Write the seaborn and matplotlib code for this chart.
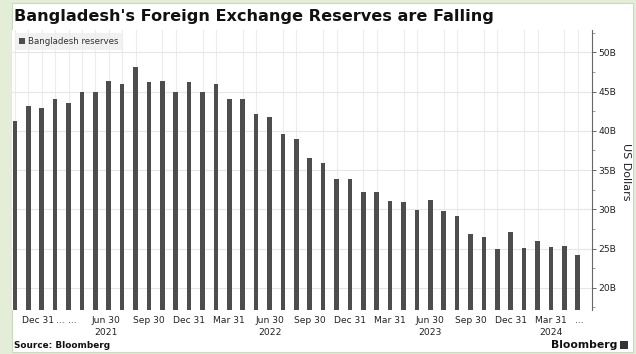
import matplotlib
matplotlib.use("Agg")
import matplotlib.pyplot as plt
from matplotlib.patches import Rectangle
from matplotlib.ticker import FixedLocator
import seaborn as sns
import pandas as pd

# ---- data ----
months = pd.date_range("2020-11-30", "2024-05-31", freq="ME").strftime("%Y-%m").tolist()
reserves = [41.3, 43.2, 42.9, 44.0, 43.5, 44.9, 45.0, 46.4, 45.9, 48.1,
            46.2, 46.4, 44.9, 46.2, 44.9, 46.0, 44.1, 44.0, 42.2, 41.8,
            39.6, 39.0, 36.5, 35.9, 33.8, 33.8, 32.2, 32.2, 31.1, 30.9,
            29.9, 31.2, 29.8, 29.2, 26.9, 26.5, 24.9, 27.1, 25.1, 25.9,
            25.2, 25.3, 24.2]
tick_labels = ["Dec 31", "...", "...", "Jun 30\n2021", "Sep 30", "Dec 31",
               "Mar 31", "Jun 30\n2022", "Sep 30", "Dec 31", "Mar 31",
               "Jun 30\n2023", "Sep 30", "Dec 31", "Mar 31\n2024", "..."]
tick_pos = [1.75, 3.4, 4.3, 6.8, 10, 13, 16, 19, 22, 25, 28, 31, 34, 37, 40, 42.1]
y_ticks = [20, 25, 30, 35, 40, 45, 50]
y_tick_labels = [f"{v}B" for v in y_ticks]
series_name = "Bangladesh reserves"
title = "Bangladesh's Foreign Exchange Reserves are Falling"

df = pd.DataFrame({"month": months, "reserves": reserves})

W, H = 636, 354
fig = plt.figure(figsize=(W / 100, H / 100), dpi=100)
fig.patch.set_facecolor("#e3edd7")
fig.patches.append(Rectangle((12 / W, 1 - 352 / H), (633 - 12) / W, (352 - 3) / H,
                             transform=fig.transFigure, facecolor="white",
                             edgecolor="#cdd8c2", lw=0.8, zorder=-10))

ax = fig.add_axes([12 / W, 1 - 310 / H, (591.7 - 12) / W, (310 - 30) / H])
ax.set_zorder(1)
sns.barplot(data=df, x="month", y="reserves", color="#4d4d4d", saturation=1,
            width=0.34, ax=ax, label=series_name)

ax.set_xlim(-0.22, 43.04)
ax.set_ylim(17.17, 52.84)
ax.set_xlabel("")
ax.set_ylabel("")

# x axis
ax.set_xticks(tick_pos)
ax.set_xticklabels(tick_labels, linespacing=1.45)
ax.xaxis.set_minor_locator(FixedLocator(list(range(len(months)))))
ax.tick_params(axis="x", which="both", length=0, labelsize=6.6, pad=4, labelcolor="#222222")

# y axis on right
ax.yaxis.tick_right()
ax.set_yticks(y_ticks)
ax.set_yticklabels(y_tick_labels)
ax.yaxis.set_minor_locator(FixedLocator([17.5, 22.5, 27.5, 32.5, 37.5, 42.5, 47.5, 52.5]))
ax.tick_params(axis="y", which="major", length=3, width=0.7, color="#666666",
               labelsize=6.6, pad=2, labelcolor="#222222")
ax.tick_params(axis="y", which="minor", length=2, width=0.6, color="#888888")

for s in ["top", "left", "bottom"]:
    ax.spines[s].set_visible(False)
ax.spines["right"].set_color("#666666")
ax.spines["right"].set_linewidth(0.8)

ax.set_axisbelow(True)
ax.grid(False)
ax.grid(axis="y", which="major", color="#e6e6e6", lw=0.8)
ax.grid(axis="x", which="minor", color="#ececec", lw=0.8)

leg = ax.legend(loc="upper left", bbox_to_anchor=(0.0, 1.0), borderaxespad=0.3,
                frameon=True, fontsize=6.2, handlelength=0.7, handleheight=0.7,
                handletextpad=0.4, borderpad=0.5)
leg.get_frame().set_facecolor("#eeeeee")
leg.get_frame().set_edgecolor("none")
leg.get_frame().set_boxstyle("square", pad=0)
for t in leg.get_texts():
    t.set_color("#333333")

fig.text(626 / W, 1 - 172 / H, "US Dollars", rotation=270, ha="center", va="center",
         fontsize=8, color="#222222")
fig.text(14 / W, 1 - 17 / H, title, fontsize=11.6, fontweight="bold",
         ha="left", va="center", color="#111111")
fig.text(14 / W, 1 - 346 / H, "Source: Bloomberg", fontsize=6.4, fontweight="bold",
         ha="left", va="center", color="#111111")
fig.text(617 / W, 1 - 345 / H, "Bloomberg", fontsize=7.8, fontweight="bold",
         ha="right", va="center", color="#111111")
fig.patches.append(Rectangle((620 / W, 1 - 349 / H), 8 / W, 8 / H,
                             transform=fig.transFigure, facecolor="#333333",
                             edgecolor="none", zorder=3))

fig.savefig("out.png", dpi=100, facecolor=fig.get_facecolor())
